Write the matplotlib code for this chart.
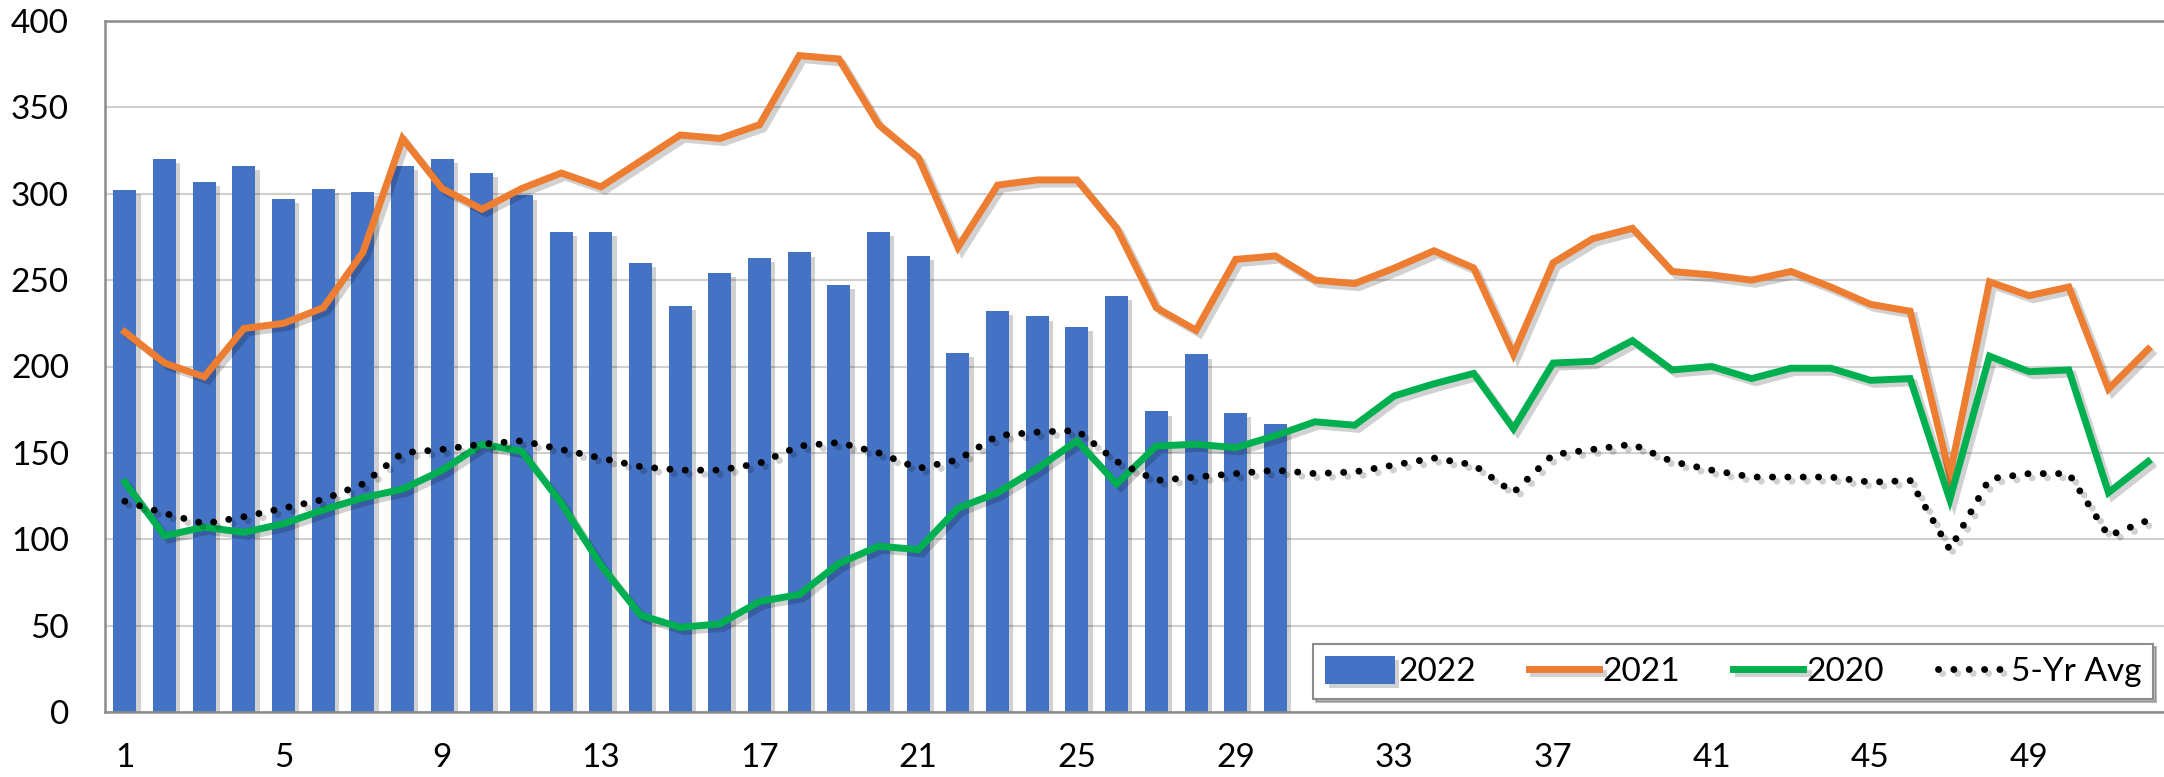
import matplotlib
matplotlib.use("Agg")
import matplotlib.pyplot as plt
import matplotlib.patheffects as pe
import numpy as np

plt.rcParams['font.family'] = ['Lato', 'DejaVu Sans']

weeks = list(range(1, 53))
tick_labels = [str(w) for w in range(1, 53, 4)]

y2022 = [302, 320, 307, 316, 297, 303, 301, 316, 320, 312, 299, 278, 278, 260, 235, 254,
         263, 266, 247, 278, 264, 208, 232, 229, 223, 241, 174, 207, 173, 167]

y2021 = [220, 202, 194, 222, 225, 234, 266, 332, 303, 291, 303, 312, 304, 319, 334, 332,
         340, 380, 378, 340, 321, 269, 305, 308, 308, 280, 234, 221, 262, 264, 250, 248,
         257, 267, 257, 207, 260, 274, 280, 255, 253, 250, 255, 246, 236, 232, 137, 249,
         241, 246, 187, 210]

y2020 = [133, 102, 107, 104, 109, 117, 124, 129, 140, 155, 151, 121, 85, 56, 49, 51,
         64, 68, 86, 96, 94, 118, 127, 141, 157, 132, 154, 155, 153, 160, 168, 166,
         183, 190, 196, 164, 202, 203, 215, 198, 200, 193, 199, 199, 192, 193, 123, 206,
         197, 198, 127, 145]

avg5 = [122, 115, 109, 113, 118, 123, 132, 150, 152, 155, 157, 152, 147, 142, 140, 140,
        144, 154, 156, 150, 141, 146, 160, 162, 163, 145, 134, 136, 138, 140, 138, 139,
        143, 147, 143, 127, 149, 152, 155, 145, 140, 136, 136, 136, 133, 134, 94, 135,
        138, 138, 102, 111]

C_BAR = '#4472C4'
C_21 = '#ED7D31'
C_20 = '#00B050'

fig = plt.figure(figsize=(21.64, 7.77), dpi=100)
ax = fig.add_axes([105/2164, 65/777, 2063/2164, 691/777])

x_all = np.arange(len(weeks))
x_bar = np.arange(len(y2022))

shadow_bar = [pe.SimplePatchShadow(offset=(3, -3), shadow_rgbFace='#000000', alpha=0.18), pe.Normal()]
bars = ax.bar(x_bar, y2022, width=0.58, color=C_BAR, label='2022', zorder=2)
for b in bars:
    b.set_path_effects(shadow_bar)

line_shadow = [pe.SimpleLineShadow(offset=(3, -3), shadow_color='#000000', alpha=0.18), pe.Normal()]
l21, = ax.plot(x_all, y2021, color=C_21, lw=5, label='2021', zorder=3, path_effects=line_shadow,
               solid_joinstyle='miter')
l20, = ax.plot(x_all, y2020, color=C_20, lw=5, label='2020', zorder=3, path_effects=line_shadow,
               solid_joinstyle='miter')
lav, = ax.plot(x_all, avg5, color='black', lw=5, linestyle=(0, (0.01, 2.2)), dash_capstyle='round',
               label='5-Yr Avg', zorder=4, path_effects=line_shadow)

ax.set_xlim(-0.5, len(weeks) - 0.5)
ax.set_ylim(0, 400)
ax.set_yticks(range(0, 401, 50))
ax.set_xticks(np.arange(0, 52, 4))
ax.set_xticklabels(tick_labels)
ax.tick_params(axis='both', length=0, labelsize=24, colors='black')
ax.tick_params(axis='y', pad=26)
ax.tick_params(axis='x', pad=22)

ax.grid(axis='y', color='#d0d0d0', lw=1.5, zorder=0)
ax.set_axisbelow(True)
for side in ['left', 'bottom', 'top']:
    ax.spines[side].set_color('#8c8c8c')
    ax.spines[side].set_linewidth(1.8)
ax.spines['right'].set_visible(False)

leg = ax.legend([bars, l21, l20, lav], ['2022', '2021', '2020', '5-Yr Avg'],
                loc='lower right', bbox_to_anchor=(2153/2164, 78/777), bbox_transform=fig.transFigure,
                ncol=4, fontsize=24, frameon=True, fancybox=False, shadow={'color': '#000000', 'alpha': 0.25},
                handlelength=2.1, handleheight=0.9, handletextpad=0.1, columnspacing=1.6,
                borderpad=0.35, borderaxespad=0)
leg.get_frame().set_edgecolor('#8c8c8c')
leg.get_frame().set_linewidth(1.5)

fig.savefig('out.png', dpi=100)
